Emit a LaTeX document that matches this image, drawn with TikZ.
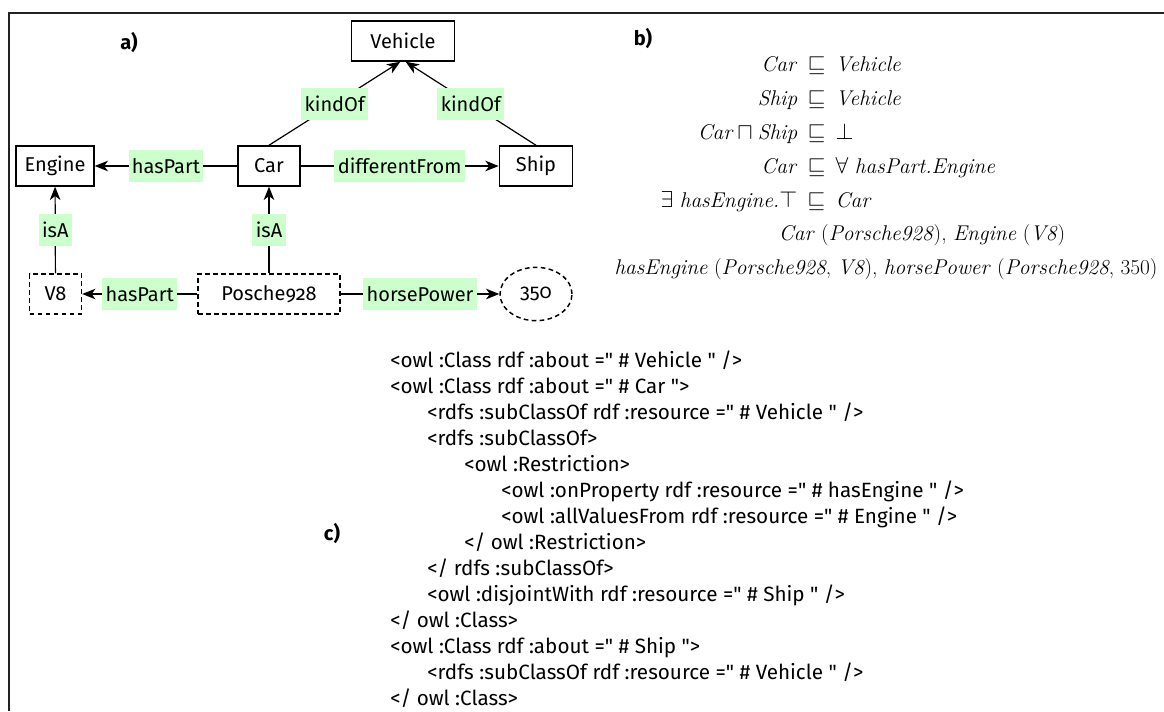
\documentclass[tikz,border=0pt]{standalone}
\usepackage{fontspec}
\setsansfont{Fira Sans}[Numbers=OldStyle,Ligatures=TeXOff]
\usetikzlibrary{arrows.meta,positioning,calc,shapes.geometric}
\definecolor{Ink}{HTML}{000000}
\definecolor{Tag}{HTML}{CCFFCC}
\definecolor{Frame}{HTML}{222222}
\tikzset{
  classbox/.style={draw=Ink,line width=1.1pt,minimum height=30pt,inner xsep=4pt,font=\sffamily\fontsize{15}{17}\selectfont,text=Ink},
  indivbox/.style={classbox,dash pattern=on 3.5pt off 2.5pt},
  valuebox/.style={indivbox,ellipse,minimum width=54pt,minimum height=40pt,inner sep=0pt},
  tag/.style={fill=Tag,minimum height=24pt,inner xsep=2.5pt,inner ysep=0pt,font=\sffamily\fontsize{15}{17}\selectfont,text=Ink},
  line/.style={-{Stealth[length=10pt,width=8pt,inset=3pt]},draw=Ink,line width=0.9pt},
  panel/.style={font=\sffamily\bfseries\fontsize{15}{17}\selectfont},
  axiom/.style={anchor=base west,inner sep=0pt,font=\fontsize{16}{18}\selectfont},
  fact/.style={anchor=base,inner sep=0pt,font=\fontsize{16}{18}\selectfont},
  owl/.style={anchor=base west,inner sep=0pt,font=\sffamily\fontsize{15.5}{17}\selectfont}
}

\begin{document}
\begin{tikzpicture}[x=0.75pt,y=-0.75pt]
  \useasboundingbox (0,0) rectangle (1164,711);
  \draw[Frame,line width=1.1pt] (1164,13) -- (9,13) -- (9,711);

  % a) graph
  \node[panel] (pa) at (129,42) {a)};
  \node[classbox,minimum width=77pt] (vehicle) at (403,41) {Vehicle};
  \node[classbox,minimum width=58.5pt] (engine) at (55,166) {Engine};
  \node[classbox,minimum width=46.5pt] (car) at (269,166) {Car};
  \node[classbox,minimum width=55pt] (ship) at (536,166) {Ship};
  \node[indivbox,minimum width=39pt] (v8) at (55.5,294) {V8};
  \node[indivbox,minimum width=106.5pt] (porsche) at (269,294) {Posche928};
  \node[valuebox] (hp) at (536,294) {350};

  \draw[line] (car.north) -- node[tag] {kindOf} ([xshift=-2pt]vehicle.south);
  \draw[line] (ship.north) -- node[tag] {kindOf} ([xshift=2pt]vehicle.south);
  \draw[line] (car) -- node[tag] {hasPart} (engine);
  \draw[line] (car) -- node[tag] {differentFrom} (ship);
  \draw[line] (v8) -- node[tag] {isA} (engine);
  \draw[line] (porsche) -- node[tag] {isA} (car);
  \draw[line] (porsche) -- node[tag] {hasPart} (v8);
  \draw[line] (porsche) -- node[tag] {horsePower} (hp);

  % b) axioms
  \node[panel] (pb) at (643,38) {b)};
  \node[axiom] (ax1) at (797,71) {\llap{\textit{Car}}$\;\,\sqsubseteq\,\textit{Vehicle}$};
  \node[axiom] (ax2) at (797,105) {\llap{\textit{Ship}}$\;\,\sqsubseteq\,\textit{Vehicle}$};
  \node[axiom] (ax3) at (797,139) {\llap{$\textit{Car}\sqcap\textit{Ship}$}$\;\,\sqsubseteq\,\bot$};
  \node[axiom] (ax4) at (797,173) {\llap{\textit{Car}}$\;\,\sqsubseteq\,\forall\ \textit{hasPart.Engine}$};
  \node[axiom] (ax5) at (797,207) {\llap{$\exists\ \textit{hasEngine.}\top$}$\;\,\sqsubseteq\,\textit{Car}$};
  \node[fact] (ax6) at (922,240) {\textit{Car} (\textit{Porsche928}), \textit{Engine} (\textit{V8})};
  \node[fact] (ax7) at (886,274) {\textit{hasEngine} (\textit{Porsche928}, \textit{V8}), \textit{horsePower} (\textit{Porsche928}, 350)};

  % c) OWL listing
  \node[panel] (pc) at (332,533) {c)};
  \node[owl] (l1) at (390,367) {<owl :Class rdf :about =" \# Vehicle " />};
  \node[owl] (l2) at (390,393) {<owl :Class rdf :about =" \# Car ">};
  \node[owl] (l3) at (427,419) {<rdfs :subClassOf rdf :resource =" \# Vehicle " />};
  \node[owl] (l4) at (427,445) {<rdfs :subClassOf>};
  \node[owl] (l5) at (464,471) {<owl :Restriction>};
  \node[owl] (l6) at (501,497) {<owl :onProperty rdf :resource =" \# hasEngine " />};
  \node[owl] (l7) at (501,523) {<owl :allValuesFrom rdf :resource =" \# Engine " />};
  \node[owl] (l8) at (464,549) {</ owl :Restriction>};
  \node[owl] (l9) at (427,575) {</ rdfs :subClassOf>};
  \node[owl] (l10) at (427,601) {<owl :disjointWith rdf :resource =" \# Ship " />};
  \node[owl] (l11) at (390,627) {</ owl :Class>};
  \node[owl] (l12) at (390,653) {<owl :Class rdf :about =" \# Ship ">};
  \node[owl] (l13) at (427,679) {<rdfs :subClassOf rdf :resource =" \# Vehicle " />};
  \node[owl] (l14) at (390,705) {</ owl :Class>};
\end{tikzpicture}
\end{document}
